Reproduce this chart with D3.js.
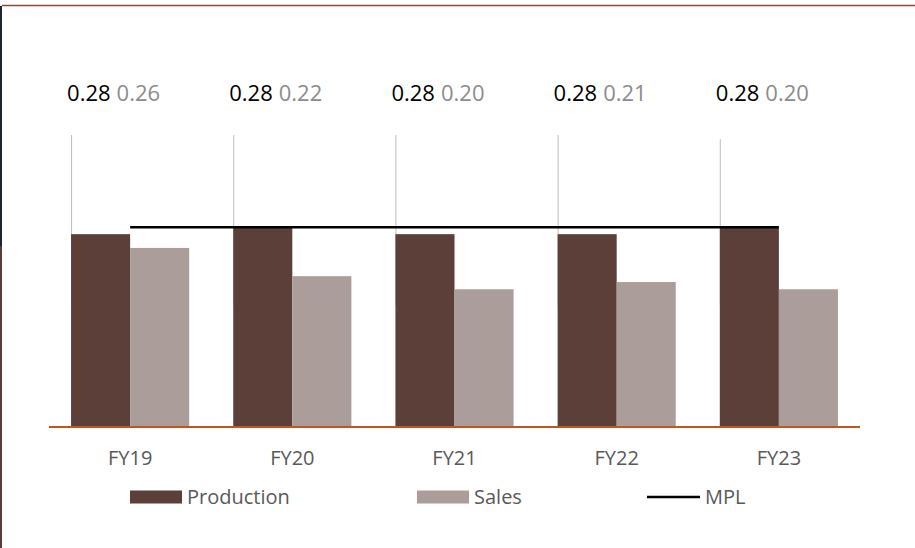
<!DOCTYPE html>
<html>
<head>
<meta charset="utf-8">
<script src="https://cdn.jsdelivr.net/npm/d3@7"></script>
<style>
  html, body { margin: 0; padding: 0; background: #fff; }
  svg { display: block; font-family: "Open Sans", "Noto Sans", sans-serif; }
</style>
</head>
<body>
<svg id="chart" width="915" height="548"></svg>
<script>
// chart data
const years = ["FY19", "FY20", "FY21", "FY22", "FY23"];
const production = [0.280, 0.289, 0.280, 0.280, 0.289];
const sales = [0.260, 0.219, 0.200, 0.2105, 0.200];
const mpl = 0.29;
const prodLabels = ["0.28", "0.28", "0.28", "0.28", "0.28"];
const salesLabels = ["0.26", "0.22", "0.20", "0.21", "0.20"];
// thin grey high/low lines at each production bar
const hiValues = [0.424, 0.424, 0.424, 0.424, 0.418];
const loValues = [0.177, 0.177, 0.177, 0.177, 0.177];
const seriesNames = ["Production", "Sales"];

const colors = { Production: "#5c3f39", Sales: "#ab9e9a" };

const svg = d3.select("#chart");

// frame bits (top rule + left strip)
svg.append("rect").attr("x", 0).attr("y", 0).attr("width", 915).attr("height", 548).attr("fill", "#fff");
svg.append("line").attr("x1", 2).attr("x2", 915).attr("y1", 5.5).attr("y2", 5.5)
    .attr("stroke", "#8a4a36").attr("stroke-width", 1.5);
svg.append("rect").attr("x", 0).attr("y", 6).attr("width", 2).attr("height", 240).attr("fill", "#1c2631");
svg.append("rect").attr("x", 0).attr("y", 246).attr("width", 2).attr("height", 302).attr("fill", "#5a3d38");

const x = d3.scaleBand()
    .domain(years)
    .range([49, 860])
    .paddingInner(0.2716)
    .paddingOuter(0.136);

const x1 = d3.scaleBand()
    .domain(seriesNames)
    .range([0, x.bandwidth()]);

const y = d3.scaleLinear()
    .domain([0, 0.62])
    .range([427, 0]);

let rows = years.map((yr, i) => ({
    year: yr, Production: production[i], Sales: sales[i],
    hi: hiValues[i], lo: loValues[i], pl: prodLabels[i], sl: salesLabels[i]
}));

// high-low lines (behind bars)
svg.append("g").selectAll("line")
    .data(rows).enter().append("line")
    .attr("x1", d => x(d.year) + 0.5)
    .attr("x2", d => x(d.year) + 0.5)
    .attr("y1", d => y(d.hi))
    .attr("y2", d => y(d.lo))
    .attr("stroke", "#bfbfbf")
    .attr("stroke-width", 1);

// bars
let groups = svg.append("g").selectAll("g")
    .data(rows).enter().append("g")
    .attr("transform", d => `translate(${x(d.year)},0)`);

groups.selectAll("rect")
    .data(d => seriesNames.map(s => ({ key: s, value: d[s] })))
    .enter().append("rect")
    .attr("x", d => x1(d.key))
    .attr("width", x1.bandwidth())
    .attr("y", d => y(d.value))
    .attr("height", d => y(0) - y(d.value))
    .attr("fill", d => colors[d.key]);

// MPL line from first to last category centre
svg.append("line")
    .attr("x1", x(years[0]) + x.bandwidth() / 2)
    .attr("x2", x(years[years.length - 1]) + x.bandwidth() / 2)
    .attr("y1", y(mpl))
    .attr("y2", y(mpl))
    .attr("stroke", "#000")
    .attr("stroke-width", 2.5);

// x axis
const xAxis = svg.append("g")
    .attr("transform", `translate(0,${y(0)})`)
    .call(d3.axisBottom(x).tickSize(0).tickPadding(24));
xAxis.select(".domain").attr("stroke", "#c5561a").attr("stroke-width", 2)
    .attr("d", "M49,0H860");
xAxis.selectAll("text")
    .attr("font-size", 20)
    .attr("fill", "#595959")
    .attr("font-family", "'Open Sans', 'Noto Sans', sans-serif");

// value labels at the top
let labels = svg.append("g").selectAll("g")
    .data(rows).enter().append("g");

labels.append("text")
    .attr("class", "prodLabel")
    .attr("x", d => x(d.year) - 4)
    .attr("y", 101)
    .attr("font-size", 22)
    .attr("fill", "#000")
    .text(d => d.pl);

labels.each(function (d) {
    let g = d3.select(this);
    let w = g.select(".prodLabel").node().getComputedTextLength();
    g.append("text")
        .attr("x", x(d.year) - 4 + w + 6)
        .attr("y", 101)
        .attr("font-size", 22)
        .attr("fill", "#8c8c8c")
        .text(d.sl);
});

// legend
const legendItems = [
    { name: "Production", type: "rect", x: 130 },
    { name: "Sales", type: "rect", x: 417 },
    { name: "MPL", type: "line", x: 647 }
];

let legend = svg.append("g").selectAll("g")
    .data(legendItems).enter().append("g")
    .attr("transform", d => `translate(${d.x},497)`);

legend.filter(d => d.type === "rect").append("rect")
    .attr("x", 0).attr("y", -6.5)
    .attr("width", 52).attr("height", 13)
    .attr("fill", d => colors[d.name]);

legend.filter(d => d.type === "line").append("line")
    .attr("x1", 0).attr("x2", 53).attr("y1", 0).attr("y2", 0)
    .attr("stroke", "#000").attr("stroke-width", 2.5);

legend.append("text")
    .attr("x", d => d.type === "rect" ? 57 : 58)
    .attr("y", 0)
    .attr("dy", "0.35em")
    .attr("font-size", 20)
    .attr("fill", "#595959")
    .text(d => d.name);
</script>
</body>
</html>
